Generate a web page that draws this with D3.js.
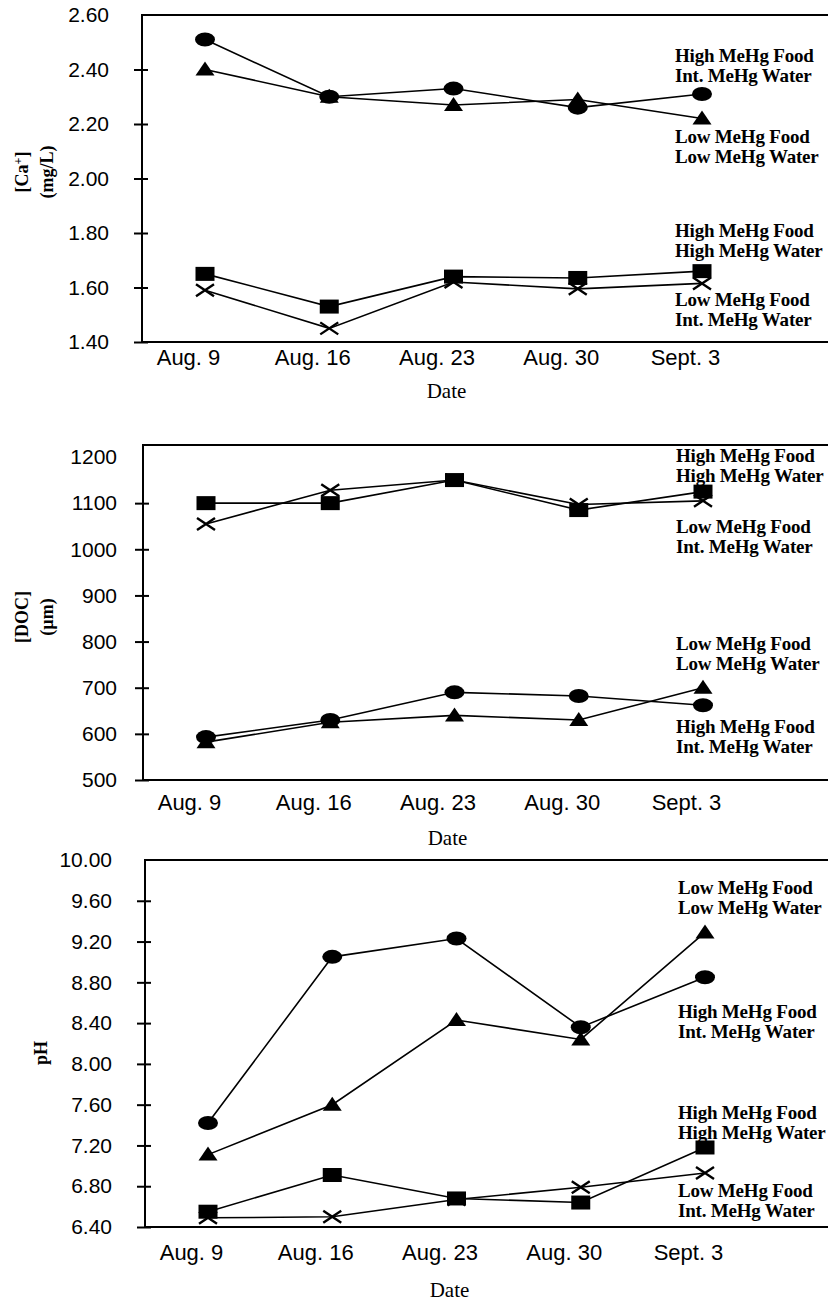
<!DOCTYPE html>
<html>
<head>
<meta charset="utf-8">
<script src="https://cdn.jsdelivr.net/npm/d3@7"></script>
<style>
  html, body { margin: 0; padding: 0; background: #fff; }
  svg { display: block; }
  .tick text { font-family: "Liberation Sans", Arial, sans-serif; font-size: 21px; fill: #000; }
  .xax .tick text { font-size: 22px; }
  .serif { font-family: "Liberation Serif", "Times New Roman", serif; fill: #000; }
</style>
</head>
<body>
<div id="vis"></div>
<script>
// shared categories
const dates = ["Aug. 9", "Aug. 16", "Aug. 23", "Aug. 30", "Sept. 3"];

// [Ca+] (mg/L)
const caTicks = [1.40, 1.60, 1.80, 2.00, 2.20, 2.40, 2.60];
const caCircle = [2.51, 2.30, 2.33, 2.26, 2.31];
const caTriangle = [2.40, 2.30, 2.27, 2.29, 2.22];
const caSquare = [1.65, 1.53, 1.64, 1.635, 1.66];
const caCross = [1.59, 1.45, 1.62, 1.595, 1.615];

// [DOC] (um)
const docTicks = [500, 600, 700, 800, 900, 1000, 1100, 1200];
const docSquare = [1100, 1100, 1150, 1085, 1125];
const docCross = [1055, 1128, 1150, 1097, 1105];
const docCircle = [593, 630, 690, 682, 662];
const docTriangle = [582, 625, 640, 630, 700];

// pH
const phTicks = [6.40, 6.80, 7.20, 7.60, 8.00, 8.40, 8.80, 9.20, 9.60, 10.00];
const phCircle = [7.42, 9.05, 9.23, 8.36, 8.85];
const phTriangle = [7.11, 7.60, 8.43, 8.24, 9.29];
const phSquare = [6.55, 6.91, 6.68, 6.64, 7.18];
const phCross = [6.49, 6.50, 6.67, 6.79, 6.93];

// treatment labels, anchored at a value on each chart's y scale
const HI = ["High MeHg Food", "Int. MeHg Water"];
const LL = ["Low MeHg Food", "Low MeHg Water"];
const HH = ["High MeHg Food", "High MeHg Water"];
const LI = ["Low MeHg Food", "Int. MeHg Water"];
const caNotes = [[HI, 2.417], [LL, 2.119], [HH, 1.774], [LI, 1.521]];
const docNotes = [[HH, 1182], [LI, 1027], [LL, 775], [HI, 595]];
const phNotes = [[LL, 9.63], [HI, 8.42], [HH, 7.43], [LI, 6.66]];

const W = 828, H = 1302;
const svg = d3.select("#vis").append("svg")
  .attr("width", W).attr("height", H)
  .attr("viewBox", [0, 0, W, H]);

function drawChart(cfg){
  const g = svg.append("g");
  const x = d3.scalePoint().domain(dates).range([cfg.left + 63, cfg.left + 560]);
  const y = d3.scaleLinear().domain(cfg.domain).range([cfg.bottom, cfg.top]);

  // frame (runs off the right edge, like the scan)
  g.append("path")
    .attr("d", `M${W + 10},${cfg.top}H${cfg.left}V${cfg.bottom}H${W + 10}`)
    .attr("fill", "none").attr("stroke", "#000").attr("stroke-width", 2);

  // y axis: ticks cross the frame line
  const yAxis = g.append("g")
    .attr("transform", `translate(${cfg.left},0)`)
    .call(d3.axisLeft(y).tickValues(cfg.ticks).tickFormat(cfg.fmt)
      .tickSizeInner(8).tickSizeOuter(0).tickPadding(cfg.pad));
  yAxis.select(".domain").remove();
  yAxis.selectAll(".tick line").attr("x1", 6).attr("stroke-width", 2)
    .attr("opacity", (d) => d === d3.max(cfg.ticks) ? 0 : 1);

  // x labels, set a little left of the points
  const xAxis = g.append("g").attr("class", "xax")
    .attr("transform", `translate(-17,${cfg.bottom})`)
    .call(d3.axisBottom(x).tickSize(0).tickPadding(cfg.xPad));
  xAxis.select(".domain").remove();

  g.append("text").attr("class", "serif")
    .attr("x", x("Aug. 23") - 7).attr("y", cfg.dateY)
    .attr("text-anchor", "middle").style("font-size", "21px")
    .text("Date");

  // y title (rotated)
  const yt = g.append("text").attr("class", "serif")
    .attr("transform", `translate(${cfg.titleX},${cfg.titleY}) rotate(-90)`)
    .attr("text-anchor", "middle")
    .style("font-size", "18px").style("font-weight", "bold");
  cfg.title.forEach((t, i) => {
    const ts = yt.append("tspan").attr("x", 0).attr("y", i * 25).attr("dy", "0.35em");
    if (t.indexOf("+") >= 0){
      ts.text(t.replace("+]", ""));
      ts.append("tspan").attr("dy", "-6").style("font-size", "12px").text("+");
      ts.append("tspan").attr("dy", "6").text("]");
    } else ts.text(t);
  });

  // series
  const line = d3.line().x((d, i) => x(dates[i])).y((d) => y(d));
  cfg.series.forEach(([vals, shape]) => {
    g.append("path").attr("d", line(vals))
      .attr("fill", "none").attr("stroke", "#000").attr("stroke-width", 1.6);
    vals.forEach((v, i) => {
      const cx = x(dates[i]), cy = y(v);
      if (shape === "circle"){
        g.append("ellipse").attr("cx", cx).attr("cy", cy).attr("rx", 10).attr("ry", 7);
      } else if (shape === "triangle"){
        g.append("path").attr("d", `M${cx},${cy - 8}L${cx + 9.5},${cy + 6}L${cx - 9.5},${cy + 6}Z`);
      } else if (shape === "square"){
        g.append("rect").attr("x", cx - 9.5).attr("y", cy - 7).attr("width", 19).attr("height", 14);
      } else {
        g.append("path").attr("d", `M${cx - 9},${cy - 6}L${cx + 9},${cy + 6}M${cx - 9},${cy + 6}L${cx + 9},${cy - 6}`)
          .attr("stroke", "#000").attr("stroke-width", 2.4);
      }
    });
  });

  // treatment labels
  cfg.notes.forEach(([lines, at]) => {
    const t = g.append("text").attr("class", "serif")
      .style("font-size", "19px").style("font-weight", "bold")
      .style("letter-spacing", "-0.2px");
    lines.forEach((s, i) => {
      t.append("tspan").attr("x", x("Sept. 3") - 27)
        .attr("y", y(at) + (i - 0.5) * 20).attr("dy", "0.35em").text(s);
    });
  });
}

drawChart({
  left: 142, top: 15, bottom: 342, domain: [1.4, 2.6], ticks: caTicks,
  fmt: d3.format(".2f"), pad: 25, xPad: 7, dateY: 398,
  title: ["[Ca+]", "(mg/L)"], titleX: 22, titleY: 172,
  series: [[caCircle, "circle"], [caTriangle, "triangle"], [caSquare, "square"], [caCross, "cross"]],
  notes: caNotes
});
drawChart({
  left: 143, top: 445, bottom: 780, domain: [500, 1226], ticks: docTicks,
  fmt: d3.format("d"), pad: 18, xPad: 14, dateY: 845,
  title: ["[DOC]", "(\u00b5m)"], titleX: 22, titleY: 617,
  series: [[docSquare, "square"], [docCross, "cross"], [docCircle, "circle"], [docTriangle, "triangle"]],
  notes: docNotes
});
drawChart({
  left: 145, top: 860, bottom: 1227, domain: [6.4, 10.0], ticks: phTicks,
  fmt: d3.format(".2f"), pad: 25, xPad: 17, dateY: 1297,
  title: ["pH"], titleX: 41, titleY: 1053,
  series: [[phCircle, "circle"], [phTriangle, "triangle"], [phSquare, "square"], [phCross, "cross"]],
  notes: phNotes
});
</script>
</body>
</html>
